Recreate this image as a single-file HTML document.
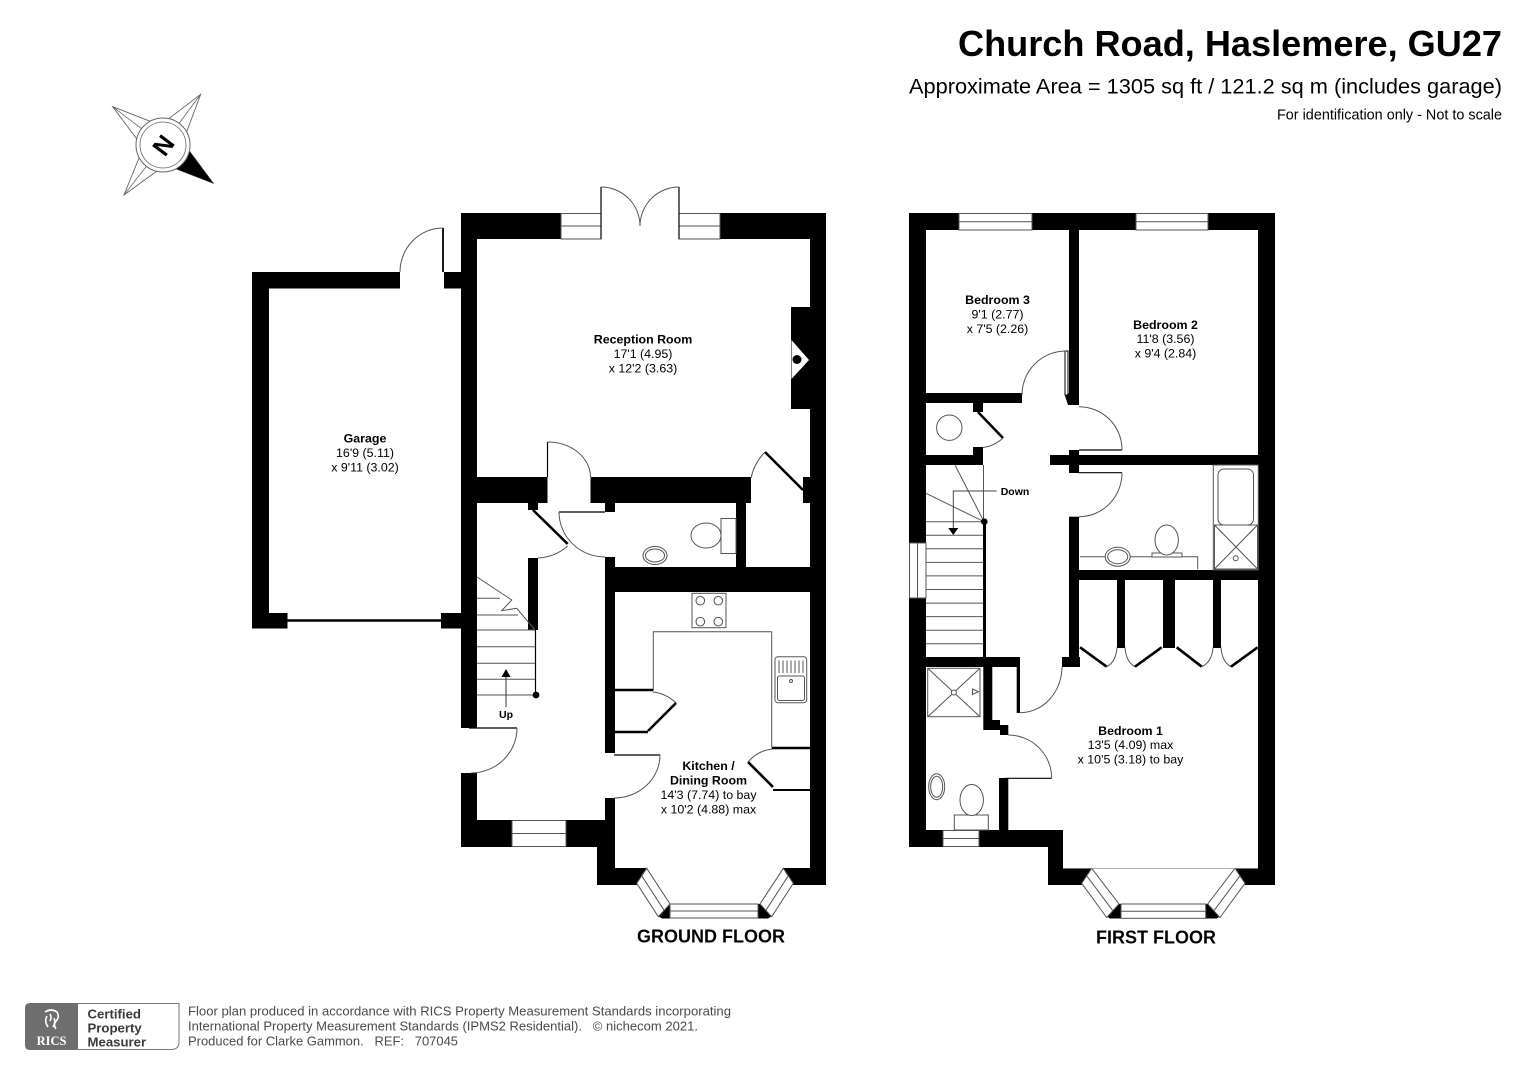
<!DOCTYPE html>
<html><head><meta charset="utf-8"><style>
html,body{margin:0;padding:0;background:#fff;width:1528px;height:1080px;overflow:hidden}
svg{display:block;font-family:"Liberation Sans",Arial,sans-serif}
.w{fill:#fff;stroke:#555;stroke-width:1}
.t{fill:none;stroke:#555;stroke-width:1}
.tf{fill:#fff;stroke:#555;stroke-width:1}
.tk{fill:none;stroke:#000;stroke-width:1.2}
.lf{fill:none;stroke:#000;stroke-width:2.6}
.lb{font-size:12.4px;font-weight:bold;text-anchor:middle;fill:#000}
.ld{font-size:12.4px;text-anchor:middle;fill:#000}
</style></head><body>
<svg width="1528" height="1080" viewBox="0 0 1528 1080">
<rect width="1528" height="1080" fill="#fff"/>

<!-- Title -->
<text x="958" y="56" font-size="36" font-weight="bold" textLength="544" lengthAdjust="spacingAndGlyphs">Church Road, Haslemere, GU27</text>
<text x="909" y="93.5" font-size="21.7" textLength="593" lengthAdjust="spacingAndGlyphs">Approximate Area = 1305 sq ft / 121.2 sq m (includes garage)</text>
<text x="1277" y="119.5" font-size="14.4" textLength="225" lengthAdjust="spacingAndGlyphs">For identification only - Not to scale</text>

<!-- Compass -->
<g>
<polygon points="112.7,106.7 160.2,125.2 200.7,94.3 182.8,142.2 213.3,183.3 165.6,164.8 124,195 143.2,147.6" fill="#fff" stroke="#666" stroke-width="0.9"/>
<polygon points="213.3,183.3 182.8,142.2 163,145 165.6,164.8" fill="#000"/>
<g stroke="#666" stroke-width="0.8">
<line x1="112.7" y1="106.7" x2="163" y2="145"/>
<line x1="200.7" y1="94.3" x2="163" y2="145"/>
<line x1="124" y1="195" x2="163" y2="145"/>
</g>
<circle cx="163" cy="145" r="27" fill="#fff" stroke="#666" stroke-width="1"/>
<circle cx="163" cy="145" r="23" fill="none" stroke="#666" stroke-width="0.8"/>
<text x="163" y="145" font-size="25" font-weight="bold" text-anchor="middle" dominant-baseline="central" transform="rotate(127 163 145)">N</text>
</g>

<!-- ================= GROUND FLOOR ================= -->
<g fill="#000">
<rect x="252" y="272" width="17" height="356"/>
<rect x="252" y="272" width="148" height="16.5"/>
<rect x="252" y="613" width="35.5" height="15.5"/>
<rect x="441" y="613" width="21" height="15.5"/>
<rect x="444" y="272" width="18" height="16.5"/>
<rect x="461" y="213" width="16" height="515"/>
<rect x="461" y="773" width="16" height="74"/>
<rect x="461" y="213" width="100" height="26"/>
<rect x="720" y="213" width="106" height="26"/>
<rect x="810" y="213" width="16" height="672"/>
<rect x="791" y="307" width="19" height="102"/>
<rect x="461" y="477" width="86.5" height="26"/>
<rect x="528" y="503" width="10" height="7"/>
<rect x="590.5" y="477" width="160.5" height="26"/>
<rect x="605" y="503" width="10" height="9"/>
<rect x="803" y="477" width="7" height="26"/>
<rect x="736" y="503" width="10" height="64"/>
<rect x="605" y="557" width="10" height="196"/>
<rect x="605" y="798" width="10" height="49"/>
<rect x="605" y="567" width="221" height="25"/>
<rect x="528" y="558" width="10" height="72"/>
<rect x="461" y="820" width="51" height="27"/>
<rect x="566" y="820" width="49" height="27"/>
<rect x="597" y="820" width="18" height="65"/>
<polygon points="597,868 646.7,868 636.7,885 597,885"/>
<polygon points="783.3,868 826,868 826,885 793.3,885"/>
<polygon points="658,916 669,904 672,904 672,918.5 662,918.5"/>
<polygon points="772,916 761,904 758,904 758,918.5 768,918.5"/>
</g>

<!-- ground windows -->
<rect class="w" x="561" y="213.5" width="40" height="25.5"/><line class="t" x1="561" y1="226" x2="601" y2="226"/>
<rect class="w" x="679" y="213.5" width="41" height="25.5"/><line class="t" x1="679" y1="226" x2="720" y2="226"/>
<rect class="w" x="512" y="820.5" width="54" height="26"/><line class="t" x1="512" y1="833.5" x2="566" y2="833.5"/>
<polygon class="w" points="646.7,868.3 670,904 658.3,916.7 636.7,883.3"/>
<line class="t" x1="641.7" y1="875.8" x2="664.1" y2="910.3"/>
<rect class="w" x="670" y="904" width="88" height="14"/><line class="t" x1="670" y1="911" x2="758" y2="911"/>
<polygon class="w" points="783.3,868.3 760,904 771.7,916.7 793.3,883.3"/>
<line class="t" x1="788.3" y1="875.8" x2="765.9" y2="910.3"/>

<!-- chimney fireplace -->
<polygon points="791.5,340 809,360 791.5,379" fill="#fff"/>
<circle cx="797" cy="359.5" r="4.5" fill="#000"/>

<!-- garage door -->
<line x1="287" y1="620.5" x2="441" y2="620.5" stroke="#000" stroke-width="2.6"/>
<line x1="443" y1="228" x2="443" y2="272" stroke="#000" stroke-width="1.8"/>
<path class="t" d="M443,228 A43,44 0 0 0 400,272"/>

<!-- french doors -->
<line class="tk" x1="601" y1="187" x2="601" y2="239"/>
<line class="tk" x1="679" y1="187" x2="679" y2="239"/>
<path class="t" d="M601,187 A39,39 0 0 1 640,226"/>
<path class="t" d="M679,187 A39,39 0 0 0 640,226"/>

<!-- doors -->
<line class="tk" x1="547.5" y1="442" x2="547.5" y2="477"/>
<path class="t" d="M547.5,442 A43,35 0 0 1 590.5,477"/>
<line class="lf" x1="803" y1="490" x2="765" y2="452"/>
<path class="t" d="M765,452 A53.5,53.5 0 0 0 751,478"/>
<line class="tk" x1="559" y1="512" x2="605" y2="512"/>
<path class="t" d="M559,512 A46,45 0 0 0 605,557"/>
<line class="lf" x1="533" y1="510" x2="567.7" y2="544"/>
<path class="t" d="M567.7,546 A49,49 0 0 1 538,558"/>
<line class="tk" x1="614" y1="755" x2="660" y2="755"/>
<path class="t" d="M660,755 A46,43 0 0 1 614,798"/>
<line class="tk" x1="469" y1="728" x2="517" y2="728"/>
<path class="t" d="M517,728 A46,45 0 0 1 471,773"/>

<!-- WC fixtures -->
<rect class="t" x="721" y="518.5" width="15" height="35"/>
<ellipse class="tf" cx="706" cy="535.5" rx="15" ry="12.5"/>
<ellipse class="tf" cx="655" cy="555.5" rx="12" ry="9"/>
<ellipse class="t" cx="655" cy="555.5" rx="9.5" ry="6.5"/>

<!-- ground stairs -->
<g class="t">
<line x1="477" y1="630" x2="535" y2="630"/>
<line x1="477" y1="646.7" x2="535" y2="646.7"/>
<line x1="477" y1="663.3" x2="535" y2="663.3"/>
<line x1="477" y1="679.3" x2="535" y2="679.3"/>
<line x1="477" y1="695" x2="535" y2="695"/>
<line x1="477" y1="598.3" x2="500" y2="598.3"/>
<line x1="477" y1="615" x2="518" y2="615"/>
<path d="M477,577 L511.7,600 L501.7,610.7 L516.7,608.3 L535,630"/>
</g>
<line x1="535.5" y1="630" x2="535.5" y2="695" stroke="#000" stroke-width="1.2"/>
<circle cx="536" cy="695" r="3.4" fill="#000"/>
<line x1="506" y1="676" x2="506" y2="707" stroke="#333" stroke-width="1"/>
<polygon points="506,669 501.5,677 510.5,677" fill="#000"/>
<text x="506" y="718" font-size="10.5" font-weight="bold" text-anchor="middle">Up</text>

<!-- kitchen fixtures -->
<rect class="t" x="692" y="593.3" width="34" height="34.4"/>
<circle class="t" cx="700.3" cy="600.7" r="4.3"/>
<circle class="t" cx="718.3" cy="600.7" r="4.3"/>
<circle class="t" cx="700.3" cy="621.7" r="4.3"/>
<circle class="t" cx="718.3" cy="621.7" r="4.3"/>
<path class="t" d="M653.3,690 V631.7 H771.7 V747"/>
<rect class="t" x="775" y="656.7" width="31.7" height="46" rx="3"/>
<rect class="t" x="777.5" y="676" width="27" height="24.5" rx="2"/>
<g class="t"><line x1="779" y1="660.5" x2="779" y2="673"/><line x1="783" y1="660.5" x2="783" y2="673"/><line x1="787" y1="660.5" x2="787" y2="673"/><line x1="791" y1="660.5" x2="791" y2="673"/><line x1="795" y1="660.5" x2="795" y2="673"/><line x1="799" y1="660.5" x2="799" y2="673"/><line x1="803" y1="660.5" x2="803" y2="673"/></g>
<circle class="t" cx="791" cy="681" r="1.5"/>
<line x1="614" y1="690" x2="653.3" y2="690" stroke="#000" stroke-width="2.5"/>
<line x1="614" y1="732" x2="648" y2="732" stroke="#000" stroke-width="2.5"/>
<line class="lf" x1="676" y1="703" x2="648" y2="731"/>
<path class="t" d="M653,692 A39.5,39.5 0 0 1 676,703"/>
<line x1="771.7" y1="748" x2="810" y2="748" stroke="#000" stroke-width="2.5"/>
<line x1="773" y1="790" x2="810" y2="790" stroke="#000" stroke-width="2"/>
<line class="lf" x1="773" y1="787" x2="748" y2="762"/>
<path class="t" d="M748,762 A37,37 0 0 1 772,749"/>

<!-- ground labels -->
<text class="lb" x="643" y="343.5">Reception Room</text>
<text class="ld" x="643" y="358">17'1 (4.95)</text>
<text class="ld" x="643" y="372.5">x 12'2 (3.63)</text>
<text class="lb" x="365" y="442.5">Garage</text>
<text class="ld" x="365" y="457">16'9 (5.11)</text>
<text class="ld" x="365" y="471.5">x 9'11 (3.02)</text>
<text class="lb" x="708.5" y="770">Kitchen /</text>
<text class="lb" x="708.5" y="784.5">Dining Room</text>
<text class="ld" x="708.5" y="799">14'3 (7.74) to bay</text>
<text class="ld" x="708.5" y="813.5">x 10'2 (4.88) max</text>
<text x="711" y="942.5" font-size="18" font-weight="bold" text-anchor="middle">GROUND FLOOR</text>

<!-- ================= FIRST FLOOR ================= -->
<g fill="#000">
<rect x="909" y="213" width="17" height="330"/>
<rect x="909" y="598" width="17" height="249"/>
<rect x="909" y="213" width="50" height="17"/>
<rect x="1032" y="213" width="104" height="17"/>
<rect x="1208" y="213" width="67" height="17"/>
<rect x="1258" y="213" width="17" height="672"/>
<rect x="1069" y="230" width="10" height="175"/>
<polygon points="1065,396 1069,393 1072,405 1068,405"/>
<rect x="926" y="393" width="96" height="10"/>
<rect x="973" y="403" width="10" height="9"/>
<rect x="973" y="447" width="10" height="8"/>
<rect x="926" y="455" width="57" height="10"/>
<rect x="1050" y="455" width="208" height="10"/>
<rect x="1069" y="450" width="10" height="23"/>
<rect x="1069" y="516.7" width="10" height="150.3"/>
<rect x="1079" y="570" width="179" height="10"/>
<rect x="1117" y="580" width="8" height="68"/>
<rect x="1163" y="580" width="12" height="68"/>
<rect x="1213" y="580" width="8" height="68"/>
<rect x="1062" y="657" width="18" height="10"/>
<rect x="909" y="657" width="108" height="10"/>
<rect x="1016.7" y="657" width="3.3" height="56"/>
<polygon points="983.3,666 992.3,666 992.3,720 1000,720 1000,725 1008.3,725 1008.3,735 1000,735 1000,730 983.3,730"/>
<rect x="999" y="778" width="9.3" height="52"/>
<rect x="909" y="830" width="34" height="17"/>
<rect x="979" y="830" width="84" height="17"/>
<rect x="1048" y="830" width="15" height="55"/>
<rect x="983" y="521.7" width="3" height="136"/>
<polygon points="1048,868 1091.7,868 1081.7,885 1048,885"/>
<polygon points="1235,868 1275,868 1275,885 1245,885"/>
<polygon points="1106,916 1117,904 1121,904 1121,918.5 1110,918.5"/>
<polygon points="1220.7,916 1209.7,904 1205.7,904 1205.7,918.5 1216.7,918.5"/>
</g>

<!-- first windows -->
<rect class="w" x="959" y="213.5" width="73" height="16.5"/><line class="t" x1="959" y1="221.7" x2="1032" y2="221.7"/>
<rect class="w" x="1136" y="213.5" width="72" height="16.5"/><line class="t" x1="1136" y1="221.7" x2="1208" y2="221.7"/>
<rect class="w" x="909.5" y="543" width="16.5" height="55"/><line class="t" x1="917.5" y1="543" x2="917.5" y2="598"/>
<rect class="w" x="943" y="830.5" width="36" height="16"/><line class="t" x1="943" y1="838.5" x2="979" y2="838.5"/>
<polygon class="w" points="1091.7,868.3 1119,904 1106.7,917.5 1081.7,883.3"/>
<line class="t" x1="1086.7" y1="875.8" x2="1112.8" y2="910.7"/>
<rect class="w" x="1121" y="904" width="84.7" height="14.3"/><line class="t" x1="1121" y1="911.2" x2="1205.7" y2="911.2"/>
<polygon class="w" points="1235,868.3 1207.7,904 1220,917.5 1245,883.3"/>
<line class="t" x1="1240" y1="875.8" x2="1213.9" y2="910.7"/>
<line x1="1063" y1="868.5" x2="1258" y2="868.5" stroke="#999" stroke-width="0.8"/>

<!-- first doors -->
<rect x="1065" y="351" width="3" height="44" fill="#fff" stroke="#000" stroke-width="1"/>
<path class="t" d="M1066,351 A44,44 0 0 0 1022,395"/>
<line class="lf" x1="978" y1="412" x2="1003" y2="438"/>
<path class="t" d="M1003,438 A36,36 0 0 1 983,447.5"/>
<line class="tk" x1="1079" y1="450" x2="1122" y2="450"/>
<path class="t" d="M1079,406.7 A43,43 0 0 1 1122,450"/>
<line class="tk" x1="1079" y1="472.7" x2="1122" y2="472.7"/>
<path class="t" d="M1122,472.7 A43,44 0 0 1 1079,516.7"/>
<path class="t" d="M1020,712.7 A42,46 0 0 0 1062,666.7"/>
<line class="tk" x1="1005" y1="778.3" x2="1051.7" y2="778.3"/>
<path class="t" d="M1008.3,735 A43.4,43.3 0 0 1 1051.7,778.3"/>

<!-- wardrobe doors -->
<g>
<line class="lf" stroke-width="2" x1="1080" y1="647.3" x2="1106.7" y2="666.7"/>
<path class="t" d="M1106.7,666.7 Q1116,662 1117,647.3"/>
<path class="t" d="M1125,647.3 Q1126,662 1135,666.7"/>
<line class="lf" stroke-width="2" x1="1135" y1="666.7" x2="1161.7" y2="647.3"/>
<line class="lf" stroke-width="2" x1="1176.7" y1="647.3" x2="1201.7" y2="666.7"/>
<path class="t" d="M1201.7,666.7 Q1212,662 1213,647.3"/>
<path class="t" d="M1221,647.3 Q1222,662 1231,666.7"/>
<line class="lf" stroke-width="2" x1="1231" y1="666.7" x2="1257.7" y2="647.3"/>
</g>

<circle class="t" cx="949.3" cy="427.7" r="12.7"/>

<!-- first stairs -->
<g class="t">
<line x1="926" y1="535.3" x2="983" y2="535.3"/>
<line x1="926" y1="548.8" x2="983" y2="548.8"/>
<line x1="926" y1="562.4" x2="983" y2="562.4"/>
<line x1="926" y1="575.9" x2="983" y2="575.9"/>
<line x1="926" y1="589.5" x2="983" y2="589.5"/>
<line x1="926" y1="603.1" x2="983" y2="603.1"/>
<line x1="926" y1="616.6" x2="983" y2="616.6"/>
<line x1="926" y1="630.2" x2="983" y2="630.2"/>
<line x1="926" y1="643.7" x2="983" y2="643.7"/>
<line x1="926" y1="521.7" x2="983" y2="521.7"/>
<line x1="955" y1="465" x2="984" y2="521.7"/>
<line x1="926" y1="493.3" x2="984" y2="521.7"/>
<line x1="983.5" y1="465" x2="983.5" y2="521.7"/>
</g>
<circle cx="984.3" cy="521.7" r="3.3" fill="#000"/>
<polyline points="996.7,491 953.3,491 953.3,528" fill="none" stroke="#444" stroke-width="1"/>
<polygon points="948.3,528 958.3,528 953.3,535" fill="#000"/>
<text x="1015" y="495" font-size="10.5" font-weight="bold" text-anchor="middle">Down</text>

<!-- bathroom fixtures -->
<rect class="t" x="1213.3" y="465" width="45" height="105"/>
<rect class="t" x="1218" y="469" width="35.5" height="56" rx="6"/>
<rect class="t" x="1214.5" y="525" width="43" height="44"/>
<line class="t" x1="1214.5" y1="525" x2="1257.5" y2="569"/>
<line class="t" x1="1257.5" y1="525" x2="1214.5" y2="569"/>
<circle class="tf" cx="1235.7" cy="558.3" r="2.5"/>
<path class="t" d="M1080,556.7 H1197.7 V569.3"/>
<rect class="tf" x="1152" y="553" width="30" height="4"/>
<ellipse class="tf" cx="1166.7" cy="540" rx="11.7" ry="15"/>
<ellipse class="tf" cx="1117.7" cy="556.7" rx="12.5" ry="9.5"/>
<ellipse class="t" cx="1117.7" cy="556.7" rx="10" ry="7"/>

<!-- en-suite fixtures -->
<rect class="t" x="927.7" y="668.3" width="52.3" height="48.4"/>
<line class="t" x1="927.7" y1="668.3" x2="980" y2="716.7"/>
<line class="t" x1="980" y1="668.3" x2="927.7" y2="716.7"/>
<circle class="tf" cx="953.9" cy="692.5" r="2.5"/>
<polygon class="t" points="972.5,689 978.5,691.8 972.5,694.5"/>
<ellipse class="tf" cx="936.7" cy="786.7" rx="8" ry="13"/>
<ellipse class="t" cx="936.7" cy="786.7" rx="6" ry="10.5"/>
<rect class="tf" x="954.3" y="815" width="34" height="15"/>
<ellipse class="tf" cx="971.7" cy="800" rx="11.7" ry="15.5"/>

<!-- first labels -->
<text class="lb" x="997.5" y="304">Bedroom 3</text>
<text class="ld" x="997.5" y="318.5">9'1 (2.77)</text>
<text class="ld" x="997.5" y="333">x 7'5 (2.26)</text>
<text class="lb" x="1165.5" y="329">Bedroom 2</text>
<text class="ld" x="1165.5" y="343">11'8 (3.56)</text>
<text class="ld" x="1165.5" y="357.5">x 9'4 (2.84)</text>
<text class="lb" x="1130.5" y="735">Bedroom 1</text>
<text class="ld" x="1130.5" y="749">13'5 (4.09) max</text>
<text class="ld" x="1130.5" y="763.5">x 10'5 (3.18) to bay</text>
<text x="1156" y="943.5" font-size="18" font-weight="bold" text-anchor="middle">FIRST FLOOR</text>

<!-- ================= FOOTER ================= -->
<path d="M30,1003 H78 V1050 H30 Q25,1050 25,1045 V1008 Q25,1003 30,1003 Z" fill="#6e6e6e"/>
<g fill="none" stroke="#fff" stroke-width="1.6">
<path d="M45,1012 q6,-4 12,0 q3,5 -1,9 q-3,4 0,8"/>
<path d="M47,1016 q-3,5 1,11"/>
<path d="M50,1014 q2,3 0,7"/>
<path d="M54,1018 q2,4 -1,9"/>
</g>
<text x="51.5" y="1045" font-family="Liberation Serif, serif" font-size="12.5" font-weight="bold" fill="#fff" text-anchor="middle">RICS</text>
<path d="M78,1003.5 H179 V1042 Q179,1049.5 171,1049.5 H78" fill="#fff" stroke="#777" stroke-width="1"/>
<text x="87.5" y="1018.5" font-size="13.2" font-weight="bold" fill="#3a3a3a">Certified</text>
<text x="87.5" y="1032.5" font-size="13.2" font-weight="bold" fill="#3a3a3a">Property</text>
<text x="87.5" y="1046.5" font-size="13.2" font-weight="bold" fill="#3a3a3a">Measurer</text>
<g font-size="13" fill="#4a4a4a">
<text x="188" y="1015.5" textLength="543" lengthAdjust="spacingAndGlyphs">Floor plan produced in accordance with RICS Property Measurement Standards incorporating</text>
<text x="188" y="1030.5" xml:space="preserve" textLength="510" lengthAdjust="spacingAndGlyphs">International Property Measurement Standards (IPMS2 Residential).   © nichecom 2021.</text>
<text x="188" y="1045.5" xml:space="preserve" textLength="270" lengthAdjust="spacingAndGlyphs">Produced for Clarke Gammon.   REF:   707045</text>
</g>
</svg>
</body></html>
